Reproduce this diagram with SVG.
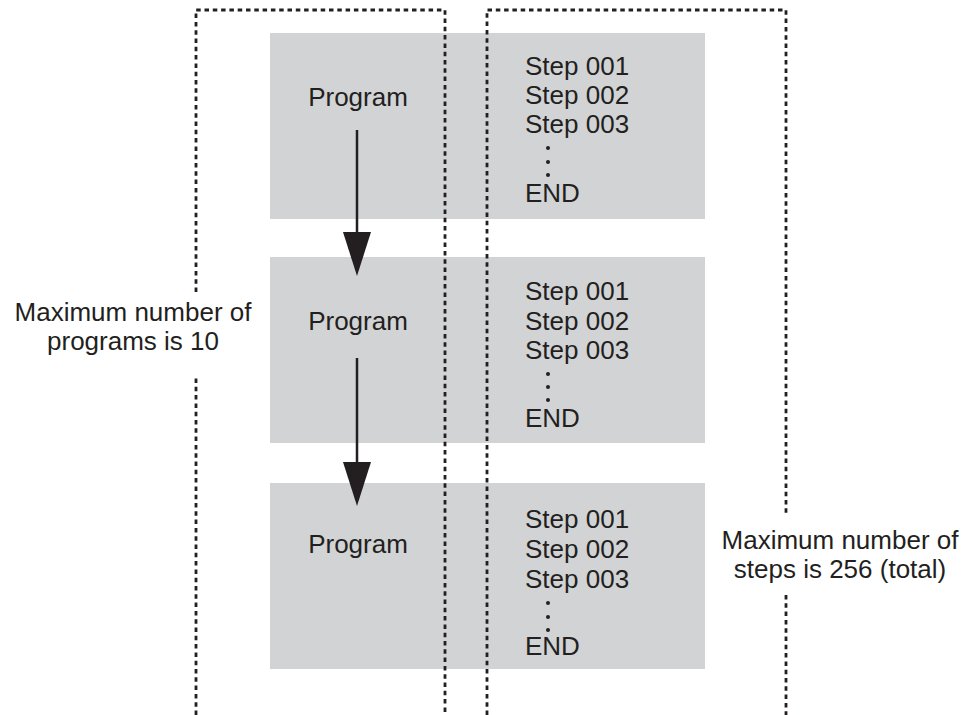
<svg xmlns="http://www.w3.org/2000/svg" width="972" height="715" viewBox="0 0 972 715">
<style>
.box{fill:#d1d3d4}
.t{font-family:"Liberation Sans",Arial,sans-serif;font-size:26px;fill:#231f20}
.c{text-anchor:middle}
.dash{fill:none;stroke:#231f20;stroke-width:2.8;stroke-dasharray:4.5 3.8}
.arr{stroke:#231f20;stroke-width:2.5;fill:none}
.head{fill:#231f20}
.dot{fill:#231f20}
</style>
<g id="node-prog1">
<rect class="box" x="270" y="33" width="435" height="186"/>
<text class="t c" x="358" y="106">Program</text>
<text class="t" x="525" y="75">Step 001</text>
<text class="t" x="525" y="104">Step 002</text>
<text class="t" x="525" y="133">Step 003</text>
<circle class="dot" cx="548" cy="148" r="2"/><circle class="dot" cx="548" cy="162" r="2"/><circle class="dot" cx="548" cy="175" r="2"/>
<text class="t" x="525" y="202">END</text>
</g>
<g id="node-prog2">
<rect class="box" x="270" y="257" width="435" height="186"/>
<text class="t c" x="358" y="330">Program</text>
<text class="t" x="525" y="300">Step 001</text>
<text class="t" x="525" y="330">Step 002</text>
<text class="t" x="525" y="359">Step 003</text>
<circle class="dot" cx="548" cy="374" r="2"/><circle class="dot" cx="548" cy="387" r="2"/><circle class="dot" cx="548" cy="400" r="2"/>
<text class="t" x="525" y="427">END</text>
</g>
<g id="node-prog3">
<rect class="box" x="270" y="483" width="435" height="186"/>
<text class="t c" x="358" y="553">Program</text>
<text class="t" x="525" y="528">Step 001</text>
<text class="t" x="525" y="558">Step 002</text>
<text class="t" x="525" y="588">Step 003</text>
<circle class="dot" cx="548" cy="603" r="2"/><circle class="dot" cx="548" cy="617" r="2"/><circle class="dot" cx="548" cy="630" r="2"/>
<text class="t" x="525" y="655">END</text>
</g>
<g id="brackets">
<path class="dash" d="M196,715 V375 M196,292 V10 H445 V715"/>
<path class="dash" d="M487,715 V10 H786 V513 M786,595 V715"/>
</g>
<g id="labels">
<text class="t c" x="133" y="321">Maximum number of</text>
<text class="t c" x="133" y="350">programs is 10</text>
<text class="t c" x="840" y="549">Maximum number of</text>
<text class="t c" x="840" y="578">steps is 256 (total)</text>
</g>
<g id="connectors">
<line class="arr" x1="357" y1="130" x2="357" y2="233"/>
<path class="head" d="M343,232 L371,232 L357,276 Z"/>
<line class="arr" x1="357" y1="358" x2="357" y2="463"/>
<path class="head" d="M343,462 L371,462 L357,506 Z"/>
</g>
</svg>
